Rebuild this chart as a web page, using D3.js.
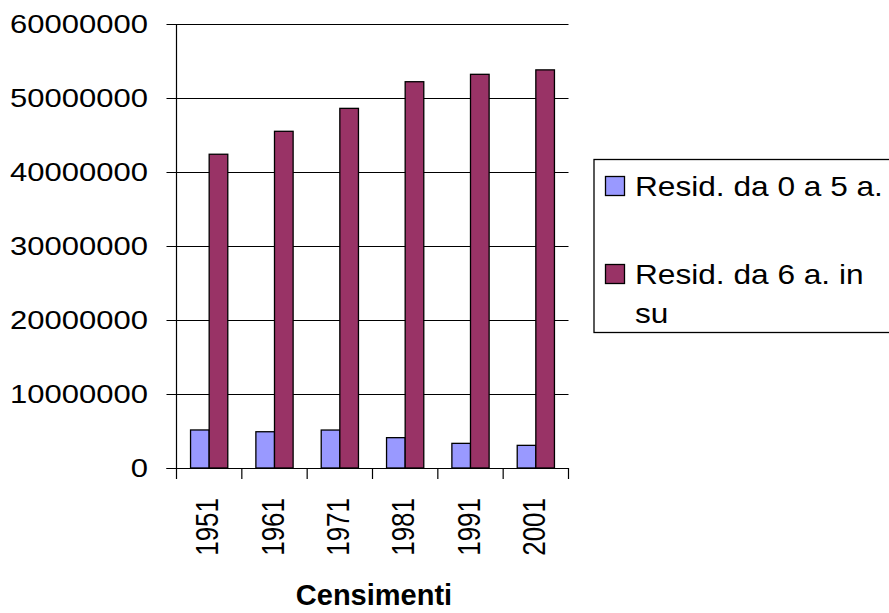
<!DOCTYPE html>
<html>
  <head>
    <script src="https://d3js.org/d3.v7.min.js" charset="utf-8"></script>
    <meta charset="UTF-8">
    <title>Censimenti</title>
    <style>
      body { margin: 0; background: #fff; }
      text { font-family: "Liberation Sans", Arial, sans-serif; fill: #000; }
    </style>
  </head>
  <body>
    <svg class="chart"></svg>
    <script type="text/javascript">

     var width = 889,
         height = 613;

     var years = ["1951", "1961", "1971", "1981", "1991", "2001"];
     var series = ["Resid. da 0 a 5 a.", "Resid. da 6 a. in su"];
     var young = [5140000, 4900000, 5130000, 4100000, 3330000, 3060000];
     var older = [42400000, 45500000, 48600000, 52200000, 53200000, 53800000];
     var yTicks = [0, 10000000, 20000000, 30000000, 40000000, 50000000, 60000000];
     var colors = ["#9999ff", "#993366"];

     var plotLeft = 176.5, plotRight = 568.5, plotTop = 24, plotBottom = 468;

     var chart = d3.select(".chart")
                   .attr("width", width)
                   .attr("height", height);

     var x = d3.scaleBand()
               .domain(years)
               .range([plotLeft, plotRight])
               .paddingInner(0.43)
               .paddingOuter(0.215);

     var xs = d3.scaleBand()
                .domain([0, 1])
                .range([0, x.bandwidth()]);

     var y = d3.scaleLinear()
               .domain([0, 60000000])
               .range([plotBottom, plotTop]);

     // gridlines + y ticks
     chart.append("g")
          .selectAll("line")
          .data(yTicks)
          .enter().append("line")
          .attr("x1", plotLeft - 10)
          .attr("x2", plotRight)
          .attr("y1", function(d) { return Math.round(y(d)) + 0.5; })
          .attr("y2", function(d) { return Math.round(y(d)) + 0.5; })
          .attr("stroke", "#000")
          .attr("stroke-width", 1.2);

     chart.append("g")
          .selectAll("text")
          .data(yTicks)
          .enter().append("text")
          .attr("transform", function(d) { return "translate(148," + y(d) + ") scale(1.24,1)"; })
          .attr("text-anchor", "end")
          .attr("dy", "0.36em")
          .attr("font-size", 25)
          .text(function(d) { return d; });

     // y axis
     chart.append("line")
          .attr("x1", plotLeft).attr("x2", plotLeft)
          .attr("y1", plotTop).attr("y2", plotBottom)
          .attr("stroke", "#000").attr("stroke-width", 1.2);

     // category ticks
     var tickX = years.map(function(d) { return x(d) - x.step() * x.paddingInner() / 2; });
     tickX.push(plotRight);
     chart.append("g")
          .selectAll("line")
          .data(tickX)
          .enter().append("line")
          .attr("x1", function(d) { return d; })
          .attr("x2", function(d) { return d; })
          .attr("y1", plotBottom)
          .attr("y2", plotBottom + 11)
          .attr("stroke", "#000")
          .attr("stroke-width", 1.2);

     // bars
     var data = years.map(function(yr, i) { return [young[i], older[i]]; });
     var groups = chart.append("g")
                       .selectAll("g")
                       .data(data)
                       .enter().append("g")
                       .attr("transform", function(d, i) { return "translate(" + x(years[i]) + ",0)"; });

     groups.selectAll("rect")
           .data(function(d) { return d; })
           .enter().append("rect")
           .attr("x", function(d, j) { return xs(j); })
           .attr("width", xs.bandwidth())
           .attr("y", function(d) { return y(d); })
           .attr("height", function(d) { return plotBottom - y(d); })
           .attr("fill", function(d, j) { return colors[j]; })
           .attr("stroke", "#000")
           .attr("stroke-width", 1.3);

     // redraw baseline over bars
     chart.append("line")
          .attr("x1", plotLeft - 10).attr("x2", plotRight)
          .attr("y1", plotBottom + 0.5).attr("y2", plotBottom + 0.5)
          .attr("stroke", "#000").attr("stroke-width", 1.2);

     // x labels
     chart.append("g")
          .selectAll("text")
          .data(years)
          .enter().append("text")
          .attr("transform", function(d) {
              return "translate(" + (x(d) + x.bandwidth() / 2 - 2) + ",498) scale(1.19,1) rotate(-90)"; })
          .attr("text-anchor", "end")
          .attr("dy", "0.36em")
          .attr("font-size", 26)
          .text(function(d) { return d; });

     chart.append("text")
          .attr("x", 374)
          .attr("y", 605)
          .attr("text-anchor", "middle")
          .attr("font-size", 29)
          .attr("font-weight", "bold")
          .text("Censimenti");

     // legend
     var legend = chart.append("g");
     legend.append("rect")
           .attr("x", 594).attr("y", 159.5)
           .attr("width", 330).attr("height", 173)
           .attr("fill", "#fff")
           .attr("stroke", "#000")
           .attr("stroke-width", 1.3);

     var legendY = [196, 284];
     var legendLines = [["Resid. da 0 a 5 a."], ["Resid. da 6 a. in", "su"]];

     legend.selectAll(".sw")
           .data(series)
           .enter().append("rect")
           .attr("class", "sw")
           .attr("x", 605.5)
           .attr("y", function(d, i) { return legendY[i] - 19.5; })
           .attr("width", 19).attr("height", 19)
           .attr("fill", function(d, i) { return colors[i]; })
           .attr("stroke", "#000").attr("stroke-width", 1.3);

     legendLines.forEach(function(lines, i) {
         lines.forEach(function(t, k) {
             legend.append("text")
                   .attr("transform", "translate(635," + (legendY[i] + k * 39) + ") scale(1.13,1)")
                   .attr("font-size", 28)
                   .text(t);
         });
     });

    </script>
  </body>
</html>
